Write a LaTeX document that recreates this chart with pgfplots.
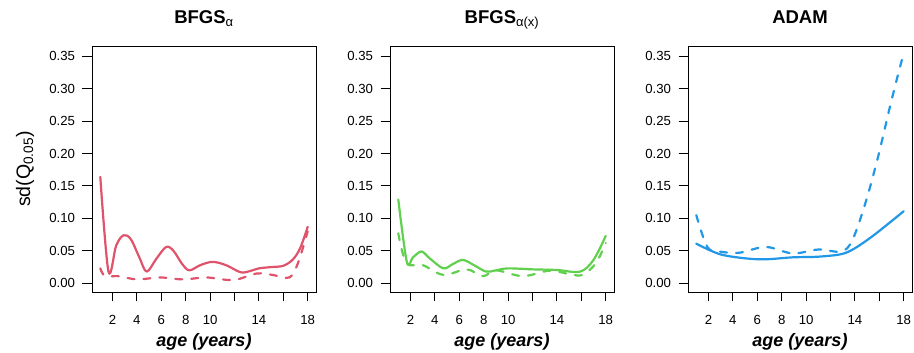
\documentclass[border=0pt]{standalone}
\usepackage{fontspec}
\setmainfont{Liberation Sans}
\usepackage{pgfplots}
\pgfplotsset{compat=1.18}
\definecolor{rred}{HTML}{DF536B}
\definecolor{rgreen}{HTML}{61D04F}
\definecolor{rblue}{HTML}{2297E6}
\pgfplotsset{
  panel/.style={
    scale only axis, width=224pt, height=246pt,
    anchor=south west,
    xmin=0.32, xmax=18.68, ymin=-0.0134, ymax=0.3656,
    xtick={2,4,...,18}, xticklabels={2,4,6,8,10,,14,,18},
    ytick={0,0.05,...,0.35},
    yticklabel style={/pgf/number format/fixed,/pgf/number format/fixed zerofill,/pgf/number format/precision=2,/pgf/number format/assume math mode=true, xshift=-4pt},
    xtick pos=left, ytick pos=left, tick align=outside,
    major tick length=9.5pt,
    every tick/.style={black, line width=0.9pt},
    axis line style={black, line width=0.9pt},
    tick label style={font=\fontsize{13.2}{15}\selectfont},
    xticklabel style={anchor=base, yshift=-23pt},
    title style={at={(0.5,1)}, anchor=base, yshift=16.5pt, font=\bfseries\fontsize{18.5}{20}\selectfont},
    xlabel={age (years)},
    xlabel style={at={(axis description cs:0.5,0)}, anchor=base, yshift=-55pt, font=\bfseries\itshape\fontsize{18}{20}\selectfont},
    clip=true,
  },
  sol/.style={line width=2.2pt, smooth, tension=0.55, line cap=round, line join=round},
  das/.style={line width=2.2pt, smooth, tension=0.55, line cap=round, dash pattern=on 7pt off 9pt},
}
\begin{document}
\begin{tikzpicture}
\useasboundingbox (0pt,0pt) rectangle (914pt,353pt);
\begin{axis}[panel, at={(92pt,61pt)}, title={BFGS\textsubscript{\normalfont\fontsize{13}{14}\selectfont α}},
  ylabel={sd(Q\textsubscript{0.05})},
  ylabel style={at={(axis description cs:-0.299,0.5)}, anchor=center, font=\fontsize{19.5}{21}\selectfont}]
\addplot[rred, sol] coordinates {(1,0.164) (1.67,0.018) (2.3,0.058) (2.9,0.074) (3.5,0.068) (4.2,0.040) (4.8,0.018) (5.6,0.038) (6.4,0.056) (7.0,0.050) (7.7,0.030) (8.3,0.020) (9.2,0.028) (10.2,0.033) (11.3,0.028) (12.5,0.017) (13.3,0.019) (14.0,0.023) (15.0,0.025) (16.0,0.027) (16.8,0.037) (17.4,0.055) (18,0.087)};
\addplot[rred, das] coordinates {(1,0.023) (1.4,0.011) (2.5,0.011) (4.0,0.006) (5.9,0.009) (7.8,0.006) (9.7,0.009) (11.9,0.005) (13.8,0.015) (15.1,0.013) (16.5,0.009) (17.2,0.031) (18,0.080)};
\end{axis}
\begin{axis}[panel, at={(390pt,61pt)}, title={BFGS\textsubscript{\normalfont\fontsize{13}{14}\selectfont α(x)}}]
\addplot[rgreen, sol] coordinates {(1,0.129) (1.7,0.033) (2.2,0.040) (2.9,0.049) (3.6,0.038) (4.7,0.023) (5.5,0.030) (6.3,0.036) (7.2,0.028) (8.2,0.018) (9.0,0.020) (10,0.023) (12,0.0215) (14,0.0205) (15.9,0.018) (17,0.036) (18,0.073)};
\addplot[rgreen, das] coordinates {(1,0.077) (1.67,0.031) (3.0,0.028) (4.7,0.013) (6.6,0.0215) (7.95,0.011) (9.0,0.020) (11.2,0.011) (13.4,0.0195) (15.05,0.014) (16.1,0.013) (17.2,0.031) (18,0.062)};
\end{axis}
\begin{axis}[panel, at={(688pt,61pt)}, title={ADAM}]
\addplot[rblue, sol] coordinates {(1,0.061) (2.9,0.045) (5,0.0385) (6.7,0.037) (8.9,0.040) (11,0.041) (12.9,0.045) (14,0.054) (15.4,0.072) (16.75,0.092) (18,0.111)};
\addplot[rblue, das] coordinates {(1,0.105) (1.9,0.056) (2.9,0.049) (4.5,0.047) (6.7,0.056) (8.9,0.046) (11,0.052) (12.9,0.049) (13.8,0.067) (14.85,0.123) (15.9,0.195) (17,0.282) (18,0.355)};
\end{axis}
\end{tikzpicture}
\end{document}
